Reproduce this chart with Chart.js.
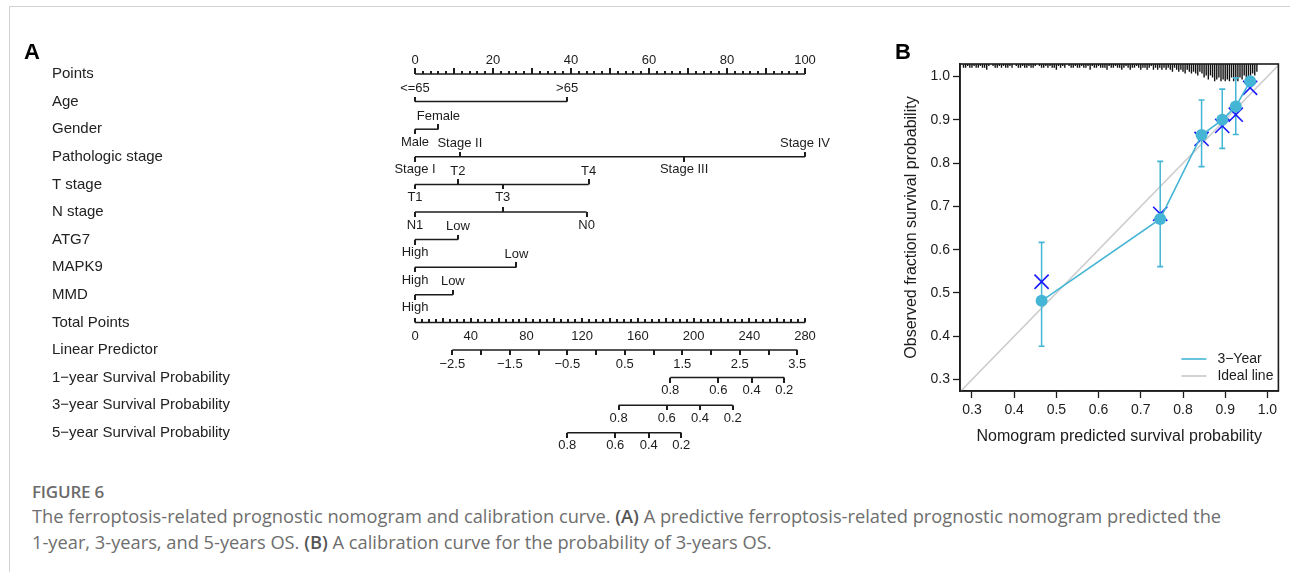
<!DOCTYPE html>
<html><head><meta charset="utf-8">
<script src="https://cdn.jsdelivr.net/npm/chart.js@4.4.1/dist/chart.umd.min.js"></script>
<style>
html,body{margin:0;padding:0;background:#fff;}
body{width:1290px;height:572px;position:relative;overflow:hidden;font-family:"Liberation Sans",Arial,sans-serif;}
#frameTop{position:absolute;left:9px;top:6px;width:1281px;height:0;border-top:1.5px solid #d2d2d2;}
#frameLeft{position:absolute;left:9px;top:6px;width:0;height:566px;border-left:1.5px solid #d2d2d2;}
#wrapA{position:absolute;left:0;top:0;width:880px;height:470px;}
#wrapB{position:absolute;left:880px;top:40px;width:410px;height:420px;}
.plabel{position:absolute;font:bold 22px "Liberation Sans",Arial,sans-serif;color:#000;line-height:22px;}
#figno{position:absolute;left:32px;top:482px;font:600 17px "Open Sans",sans-serif;color:#6b6b6b;line-height:20px;letter-spacing:-0.2px;}
#caption{position:absolute;left:32px;top:503px;font:400 16px "Open Sans",sans-serif;color:#6e6e6e;line-height:26px;white-space:nowrap;}
#caption b{color:#555;font-weight:600;}
</style></head>
<body>
<div id="frameTop"></div><div id="frameLeft"></div>
<div id="wrapA"><canvas id="cA" width="880" height="470"></canvas></div>
<div id="wrapB"><canvas id="cB" width="410" height="420"></canvas></div>
<div class="plabel" style="left:24px;top:41px;">A</div>
<div class="plabel" style="left:895px;top:41px;">B</div>
<div id="figno">FIGURE 6</div>
<div id="caption"><span id="l1">The ferroptosis-related prognostic nomogram and calibration curve. <b>(A)</b> A predictive ferroptosis-related prognostic nomogram predicted the</span><br><span id="l2">1-year, 3-years, and 5-years OS. <b>(B)</b> A calibration curve for the probability of 3-years OS.</span></div>
<script>
// ================= DATA: Panel A (nomogram) =================
const rowNames = ["Points","Age","Gender","Pathologic stage","T stage","N stage","ATG7","MAPK9","MMD","Total Points","Linear Predictor","1\u2212year Survival Probability","3\u2212year Survival Probability","5\u2212year Survival Probability"];

const pointsTickLabels = [0,20,40,60,80,100];
const totalTickLabels = [0,40,80,120,160,200,240,280];
const lpTickValues = [-2.5,-2,-1.5,-1,-0.5,0,0.5,1,1.5,2,2.5,3,3.5];
const lpTickLabels = [-2.5,-1.5,-0.5,0.5,1.5,2.5,3.5];

const ageLevels = ["<=65", ">65"];          const agePoints = [0, 39];     const ageSide = ["up","up"];
const genderLevels = ["Male","Female"];     const genderPoints = [0, 6];   const genderSide = ["down","up"];
const stageLevels = ["Stage I","Stage II","Stage III","Stage IV"]; const stagePoints = [0, 11.5, 69, 100]; const stageSide = ["down","up","down","up"];
const tLevels = ["T1","T2","T3","T4"];      const tPoints = [0, 11, 22.5, 44.5]; const tSide = ["down","up","down","up"];
const nLevels = ["N1","","N0"];             const nPoints = [0, 22.5, 44];  const nSide = ["down","up","down"];
const atg7Levels = ["High","Low"];          const atg7Points = [0, 11];     const atg7Side = ["down","up"];
const mapk9Levels = ["High","Low"];         const mapk9Points = [0, 26];    const mapk9Side = ["down","up"];
const mmdLevels = ["High","Low"];           const mmdPoints = [0, 9.7];     const mmdSide = ["down","up"];

const survLabels = ["0.8","0.6","0.4","0.2"];
const surv1Total = [183.3, 217.8, 241.7, 265.1];
const surv3Total = [146.2, 180.7, 204.6, 228.1];
const surv5Total = [109.3, 143.8, 167.8, 191.2];

// ================= DATA: Panel B (calibration) =================
const predicted = [0.465, 0.746, 0.844, 0.893, 0.925, 0.959];
const observed  = [0.482, 0.671, 0.865, 0.900, 0.931, 0.989];
const ciLower   = [0.377, 0.561, 0.792, 0.834, 0.866, null];
const ciUpper   = [0.617, 0.804, 0.946, 0.971, 0.997, null];
const corrected = [0.526, 0.683, 0.856, 0.886, 0.912, 0.974];
const calTicks  = [0.3,0.4,0.5,0.6,0.7,0.8,0.9,1.0];
const rugPred = [0.280,0.285,0.290,0.295,0.300,0.305,0.310,0.315,0.320,0.325,0.330,0.335,0.340,0.345,
0.350,0.355,0.360,0.365,0.370,0.375,0.380,0.385,0.390,0.395,0.400,0.405,0.410,0.415,0.420,0.425,
0.430,0.435,0.440,0.445,0.450,0.455,0.460,0.465,0.470,0.475,0.480,0.485,0.490,0.495,0.500,
0.505,0.510,0.515,0.520,0.525,0.530,0.535,0.540,0.545,0.550,0.555,0.560,0.565,0.570,0.575,0.580,
0.585,0.590,0.595,0.600,0.605,0.610,0.615,0.620,0.625,0.630,0.635,0.640,0.645,0.650,0.655,0.660,
0.665,0.670,0.675,0.680,0.685,0.690,0.695,0.700,0.705,0.710,0.715,0.720,0.725,0.730,0.735,0.740,
0.745,0.750,0.755,0.760,0.765,0.770,0.775,0.780,0.785,0.790,0.795,0.800,0.805,0.810,0.815,0.820,
0.825,0.830,0.835,0.840,0.845,0.850,0.855,0.860,0.865,0.870,0.875,0.880,0.885,0.890,0.895,0.900,
0.905,0.910,0.915,0.920,0.925,0.930,0.935,0.940,0.945,0.950,0.955,0.960,0.965,0.970,0.975];
const rugCount = [2,2,1,2,2,1,2,2,1,2,2,3,1,0,
1,2,2,1,2,1,2,2,1,2,0,1,2,2,1,2,
2,1,2,2,1,0,1,2,2,1,2,1,2,2,3,
1,2,1,2,0,1,2,2,1,2,2,1,2,2,1,3,
1,2,2,1,2,2,2,3,1,2,2,1,2,2,3,2,
1,2,3,2,2,1,2,3,2,2,3,2,1,3,2,3,
2,3,2,3,2,3,4,2,3,4,3,4,5,3,4,5,
4,5,6,4,5,7,6,8,6,7,9,8,7,9,8,9,
8,9,7,9,8,9,7,8,6,7,8,6,5,6,4];

// ================= Styling =================
const ink = '#1c1c1c';
const cyan = '#45B5D5';
const FONT = '"Liberation Sans", Arial, sans-serif';

function tickImg(len, dir){
  const c = document.createElement('canvas');
  c.width = 2; c.height = 2*len;
  const g = c.getContext('2d');
  g.fillStyle = ink;
  if (dir === 'up') g.fillRect(0, 0, 2, len); else g.fillRect(0, len, 2, len);
  return c;
}
const TK = {
  up5: tickImg(5,'up'), down5: tickImg(5,'down'),
  up6: tickImg(6,'up'), up3: tickImg(3,'up'), up4: tickImg(4,'up')
};

const variables = [
  {row:1, levels:ageLevels, pts:agePoints, side:ageSide},
  {row:2, levels:genderLevels, pts:genderPoints, side:genderSide},
  {row:3, levels:stageLevels, pts:stagePoints, side:stageSide},
  {row:4, levels:tLevels, pts:tPoints, side:tSide},
  {row:5, levels:nLevels, pts:nPoints, side:nSide},
  {row:6, levels:atg7Levels, pts:atg7Points, side:atg7Side},
  {row:7, levels:mapk9Levels, pts:mapk9Points, side:mapk9Side},
  {row:8, levels:mmdLevels, pts:mmdPoints, side:mmdSide}
];
const survRows = [{row:11, pos:surv1Total},{row:12, pos:surv3Total},{row:13, pos:surv5Total}];

function seg(x0, x1, row, axis){
  return {data:[{x:x0,y:row},{x:x1,y:row}], xAxisID:axis, yAxisID:'y', showLine:true,
    borderColor:ink, borderWidth:1.5, pointRadius:0, clip:false};
}
function tickSet(points, axis){
  return {data:points, xAxisID:axis, yAxisID:'y', showLine:false, clip:false,
    pointRadius:1, pointStyle:(ctx)=> ctx.raw ? TK[ctx.raw.k] : false};
}

const dsA = [];
dsA.push(seg(0,100,0,'x'));
const ptTicks = [];
for (let v=0; v<=100; v+=2) ptTicks.push({x:v, y:0, k:(v%10===0)?'up6':'up3'});
dsA.push(tickSet(ptTicks,'x'));
const varTicks = [];
variables.forEach(v=>{
  dsA.push(seg(Math.min(...v.pts), Math.max(...v.pts), v.row, 'x'));
  v.pts.forEach((p,i)=> varTicks.push({x:p, y:v.row, k: v.side[i]==='up'?'up5':'down5'}));
});
dsA.push(tickSet(varTicks,'x'));
dsA.push(seg(0,280,9,'xt'));
const totTicks = [];
for (let v=0; v<=280; v+=5) totTicks.push({x:v, y:9, k:(v%20===0)?'up4':'up3'});
dsA.push(tickSet(totTicks,'xt'));
dsA.push(seg(lpTickValues[0], lpTickValues[lpTickValues.length-1], 10, 'xlp'));
dsA.push(tickSet(lpTickValues.map(v=>({x:v,y:10,k:'down5'})),'xlp'));
survRows.forEach(s=>{
  dsA.push(seg(s.pos[0], s.pos[s.pos.length-1], s.row, 'xt'));
  dsA.push(tickSet(s.pos.map(p=>({x:p,y:s.row,k:'down5'})),'xt'));
});

const fmtMinus = v => String(v).replace('-', '\u2212');

const nomoLabels = {
  id:'nomoLabels',
  afterDatasetsDraw(chart){
    const ctx = chart.ctx, ys = chart.scales.y, xs = chart.scales.x, xt = chart.scales.xt, xl = chart.scales.xlp;
    ctx.save();
    ctx.font = '13px ' + FONT; ctx.fillStyle = ink; ctx.textAlign = 'center'; ctx.textBaseline = 'middle';
    pointsTickLabels.forEach(t => ctx.fillText(String(t), xs.getPixelForValue(t), ys.getPixelForValue(0) - 14));
    variables.forEach(v => v.levels.forEach((lab,i) => {
      if (!lab) return;
      ctx.fillText(lab, xs.getPixelForValue(v.pts[i]), ys.getPixelForValue(v.row) + (v.side[i]==='up' ? -13 : 13));
    }));
    totalTickLabels.forEach(t => ctx.fillText(String(t), xt.getPixelForValue(t), ys.getPixelForValue(9) + 14));
    lpTickLabels.forEach(t => ctx.fillText(fmtMinus(t), xl.getPixelForValue(t), ys.getPixelForValue(10) + 14));
    survRows.forEach(s => s.pos.forEach((p,i) => ctx.fillText(survLabels[i], xt.getPixelForValue(p), ys.getPixelForValue(s.row) + 13)));
    ctx.restore();
  }
};

const lpMin = -3.149, lpMax = 3.634;

new Chart(document.getElementById('cA'), {
  type:'scatter',
  data:{datasets:dsA},
  plugins:[nomoLabels],
  options:{
    responsive:false, animation:false, devicePixelRatio:1, events:[],
    layout:{padding:{left:52, right:75, top:60.2, bottom:23.4}},
    plugins:{legend:{display:false}, tooltip:{enabled:false}},
    scales:{
      x:{type:'linear', min:0, max:100, display:false},
      xt:{type:'linear', axis:'x', min:0, max:280, display:false},
      xlp:{type:'linear', axis:'x', min:lpMin, max:lpMax, display:false},
      y:{type:'linear', position:'left', min:-0.5, max:13.5, reverse:true,
        afterFit(s){ s.width = 363; },
        afterBuildTicks(s){ s.ticks = rowNames.map((_,i)=>({value:i})); },
        ticks:{callback:(v)=>rowNames[v], crossAlign:'far', autoSkip:false, padding:0, color:'#222', font:{family:FONT, size:15}},
        grid:{display:false}, border:{display:false}}
    }
  }
});

// ================= Panel B =================
const errSegs = [], capPts = [];
predicted.forEach((p,i)=>{
  if (ciLower[i] === null) return;
  errSegs.push({x:p,y:ciLower[i]},{x:p,y:ciUpper[i]},{x:p,y:null});
  capPts.push({x:p,y:ciLower[i]},{x:p,y:ciUpper[i]});
});
const rugSegs = [];
rugPred.forEach((p,i)=>{ if (rugCount[i] > 0) rugSegs.push({x:p,y:0},{x:p,y:rugCount[i]},{x:p,y:null}); });

const boxAndLegend = {
  id:'boxAndLegend',
  afterDraw(chart){
    const {ctx, chartArea:a} = chart;
    ctx.save();
    ctx.strokeStyle = ink; ctx.lineWidth = 1.6;
    ctx.strokeRect(a.left, a.top, a.right - a.left, a.bottom - a.top);
    const items = [{t:'3\u2212Year', c:cyan, y:a.bottom - 32}, {t:'Ideal line', c:'#c8c8c8', y:a.bottom - 15}];
    ctx.font = '14px ' + FONT; ctx.textBaseline = 'middle'; ctx.textAlign = 'left'; ctx.fillStyle = ink;
    items.forEach(it=>{
      ctx.strokeStyle = it.c; ctx.lineWidth = 1.6;
      ctx.beginPath(); ctx.moveTo(a.right - 97, it.y); ctx.lineTo(a.right - 72, it.y); ctx.stroke();
      ctx.fillText(it.t, a.right - 61, it.y);
    });
    ctx.restore();
  }
};

const axisCommon = {
  type:'linear',
  afterBuildTicks(s){ s.ticks = calTicks.map(v=>({value:v})); },
  grid:{display:true, drawOnChartArea:false, drawTicks:true, tickLength:7, tickColor:ink, tickWidth:1.3, color:ink},
  border:{display:true, color:ink, width:1.6}
};

new Chart(document.getElementById('cB'), {
  type:'scatter',
  data:{datasets:[
    {label:'3-Year', data:predicted.map((p,i)=>({x:p,y:observed[i]})), showLine:true, borderColor:cyan, borderWidth:1.6,
      pointRadius:6, pointBackgroundColor:cyan, pointBorderColor:cyan, pointBorderWidth:0},
    {label:'corrected', data:predicted.map((p,i)=>({x:p,y:corrected[i]})), showLine:false,
      pointStyle:'crossRot', pointRadius:10, pointBorderColor:'#1a1aff', pointBackgroundColor:'#1a1aff', pointBorderWidth:1.6},
    {label:'caps', data:capPts, showLine:false, pointStyle:'line', pointRadius:3, pointBorderColor:cyan, pointBorderWidth:1.6},
    {label:'err', data:errSegs, showLine:true, spanGaps:false, borderColor:cyan, borderWidth:1.5, pointRadius:0},
    {label:'rug', data:rugSegs, yAxisID:'yRug', showLine:true, spanGaps:false, borderColor:'#111', borderWidth:1.4, pointRadius:0},
    {label:'Ideal line', data:[{x:0.2,y:0.2},{x:1.1,y:1.1}], showLine:true, borderColor:'#cccccc', borderWidth:1.6, pointRadius:0}
  ]},
  plugins:[boxAndLegend],
  options:{
    responsive:false, animation:false, devicePixelRatio:1, events:[],
    layout:{padding:{left:0, right:10.7, top:24, bottom:0}},
    plugins:{legend:{display:false}, tooltip:{enabled:false}},
    scales:{
      x:Object.assign({}, axisCommon, {position:'bottom', min:0.2717, max:1.026,
        afterFit(s){ s.height = 69; },
        ticks:{callback:(v)=>Number(v).toFixed(1), color:ink, padding:4, font:{family:FONT, size:14}, autoSkip:false, maxRotation:0},
        title:{display:true, text:'Nomogram predicted survival probability', color:ink, font:{family:FONT, size:16}, padding:{top:0, bottom:14}}}),
      y:Object.assign({}, axisCommon, {position:'left', min:0.2736, max:1.029,
        afterFit(s){ s.width = 80; },
        ticks:{callback:(v)=>Number(v).toFixed(1), color:ink, padding:3, font:{family:FONT, size:14}, autoSkip:false},
        title:{display:true, text:'Observed fraction survival probability', color:ink, font:{family:FONT, size:16}, padding:{top:22, bottom:0}}}),
      yRug:{type:'linear', display:false, min:0, max:170, reverse:true}
    }
  }
});

(function(){
  const l1 = document.getElementById('l1');
  const w = l1.getBoundingClientRect().width;
  const target = 1222 - 32;
  const cap = document.getElementById('caption');
  cap.style.fontSize = (16 * target / w).toFixed(2) + 'px';
})();
</script>
</body></html>
